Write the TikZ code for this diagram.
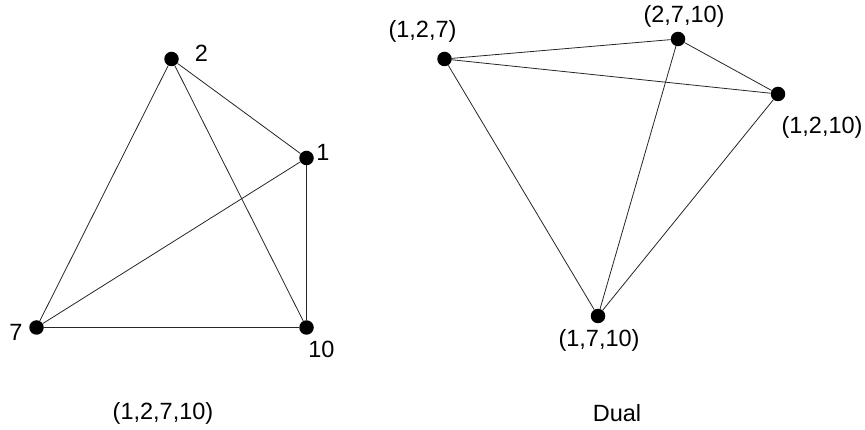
\documentclass[tikz,border=0pt]{standalone}
\usepackage{fontspec}
\setmainfont{Liberation Sans}
\usetikzlibrary{positioning}
\tikzset{
  vtx/.style={circle, fill=black, draw=none, inner sep=0pt, minimum size=14.5pt},
  lbl/.style={inner sep=0pt, font=\fontsize{23.5}{28}\selectfont},
  link/.style={line width=0.8pt, draw=black!85},
}

\begin{document}
\begin{tikzpicture}[x=1pt, y=-1pt, on grid]

  \useasboundingbox (0,0) rectangle (865,430);

  % the graph (1,2,7,10)
  \node[vtx] (v2)  at (171.5,59)  {};
  \node[vtx] (v1)  at (306.5,158) {};
  \node[vtx] (v7)  at (36.5,327.5)  {};
  \node[vtx] (v10) at (306.5,327.5) {};

  \node[lbl, above right=6pt and 30pt of v2]     (l2)  {2};
  \node[lbl, above right=6pt and 16.5pt of v1]   (l1)  {1};
  \node[lbl, below left=4.5pt and 20.5pt of v7]  (l7)  {7};
  \node[lbl, below right=22pt and 15pt of v10]   (l10) {10};

  \draw[link] (v2) -- (v1);
  \draw[link] (v2) -- (v7);
  \draw[link] (v2) -- (v10);
  \draw[link] (v1) -- (v7);
  \draw[link] (v1) -- (v10);
  \draw[link] (v7) -- (v10);

  % the dual
  \node[vtx] (d127)  at (444.5,59) {};
  \node[vtx] (d2710) at (678,39)   {};
  \node[vtx] (d1210) at (778,94)   {};
  \node[vtx] (d1710) at (598,316) {};

  \node[lbl, above left=27.5pt and 22pt of d127]   (ld127)  {(1,2,7)};
  \node[lbl, above right=23pt and 6pt of d2710]    (ld2710) {(2,7,10)};
  \node[lbl, below right=33.5pt and 44pt of d1210] (ld1210) {(1,2,10)};
  \node[lbl, below right=24pt and 1pt of d1710]    (ld1710) {(1,7,10)};

  \draw[link] (d127)  -- (d2710);
  \draw[link] (d127)  -- (d1210);
  \draw[link] (d127)  -- (d1710);
  \draw[link] (d2710) -- (d1210);
  \draw[link] (d2710) -- (d1710);
  \draw[link] (d1210) -- (d1710);

  % captions
  \node[lbl] (cap)  at (163,413) {(1,2,7,10)};
  \node[lbl] (dual) at (617,413) {Dual};

\end{tikzpicture}
\end{document}
